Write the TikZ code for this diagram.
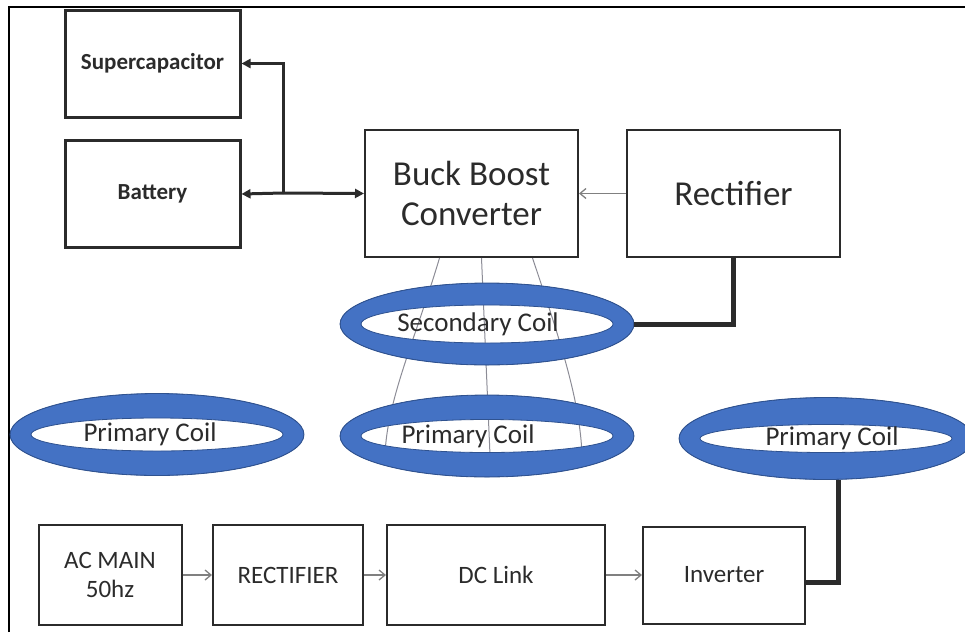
\documentclass[tikz,border=0pt]{standalone}
\usepackage{fontspec}
\setmainfont{Carlito}
\usetikzlibrary{shapes.geometric,arrows.meta,positioning}
\definecolor{coilblue}{HTML}{4472C4}
\definecolor{coiledge}{HTML}{2F528F}
\definecolor{inkgray}{HTML}{2B2B2B}
\definecolor{fluxgray}{HTML}{8C8C96}

\begin{document}
\begin{tikzpicture}[x=1pt,y=-1pt,
    block/.style={draw=inkgray, line width=2pt, minimum width=#1, inner sep=0pt, text=inkgray, align=center},
    store/.style={draw=inkgray, line width=3pt, minimum width=175pt, minimum height=107pt, text=inkgray, font=\fontsize{23}{26}\selectfont\bfseries},
    coil/.style={ellipse, minimum width=294pt, minimum height=82pt, inner sep=0pt, outer sep=0pt,
        draw=coiledge, line width=0.8pt, text=inkgray, font=\fontsize{27}{30}\selectfont,
        path picture={\filldraw[fill=coilblue, draw=coiledge, line width=0.8pt, even odd rule]
            (path picture bounding box.center) ellipse [x radius=147pt, y radius=41pt]
            (path picture bounding box.center) ellipse [x radius=126pt, y radius=#1];}},
    bus/.style={draw=inkgray, line width=3pt, -{Triangle[length=9pt,width=9pt]}},
    feed/.style={draw=gray, line width=1.3pt, -{Straight Barb[length=6pt,width=10pt]}},
    lead/.style={draw=inkgray, line width=5pt},
    flux/.style={draw=fluxgray, line width=1pt}]
    \useasboundingbox (0,0) rectangle (965,632);
    % outer frame
    \draw[black, line width=2pt] (9,632) -- (9,7) -- (965,7);

    % storage side
    \node[store] (supcap) at (152.5,63.5) {Supercapacitor};
    \node[store] (battery) at (152.5,194) {Battery};
    \node[block=213pt, minimum height=127pt, font=\fontsize{35}{40}\selectfont] (buck) at (471.5,193.5) {Buck Boost\\Converter};
    \node[block=213pt, minimum height=127pt, font=\fontsize{35}{40}\selectfont] (rect) at (733.5,193.5) {Rectifier};
    \coordinate (jn) at (283,193);

    % flux lines
    \coordinate (fa) at (385,455);
    \coordinate (fb) at (490,455);
    \coordinate (fc) at (582,455);
    \draw[flux] ([xshift=-32pt]buck.south) .. controls (415,340) and (387,400) .. (fa);
    \draw[flux] ([xshift=10pt]buck.south) -- (fb);
    \draw[flux] ([xshift=61pt]buck.south) .. controls (560,340) and (580,400) .. (fc);

    % coils
    \node[coil=19pt] (sec) at (487,324) {\hspace*{-18pt}Secondary Coil};
    \node[coil=16.5pt] (prima) at (157,434.5) {\hspace*{-14pt}Primary Coil};
    \node[coil=16.5pt] (primb) at (487,436) {\hspace*{-38pt}Primary Coil};
    \node[coil=14pt] (primc) at (826,438.5) {\hspace*{12pt}Primary Coil};

    % supply chain
    \node[block=143pt, minimum height=100pt, font=\fontsize{25}{29}\selectfont] (acmain) at (110,575) {AC MAIN\\50hz};
    \node[block=150pt, minimum height=100pt, font=\fontsize{25}{29}\selectfont] (rectin) at (288,575) {RECTIFIER};
    \node[block=218pt, minimum height=100pt, font=\fontsize{25}{29}\selectfont] (dclink) at (496,575) {DC Link};
    \node[block=162pt, minimum height=97pt, font=\fontsize{25}{29}\selectfont] (inverter) at (724,575) {Inverter};

    % connections
    \draw[bus] (jn) |- (supcap.east);
    \draw[bus] (jn) -- (battery.east);
    \draw[bus] (jn) -- (buck.west);
    \draw[feed] (rect.west) -- (buck.east);
    \draw[lead] (rect.south) |- (sec.east);
    \draw[feed] (acmain) -- (rectin);
    \draw[feed] (rectin) -- (dclink);
    \draw[feed] (dclink) -- (inverter);
    \draw[lead] ([yshift=-7pt]inverter.east) -| ([xshift=12pt]primc.south);
\end{tikzpicture}
\end{document}
